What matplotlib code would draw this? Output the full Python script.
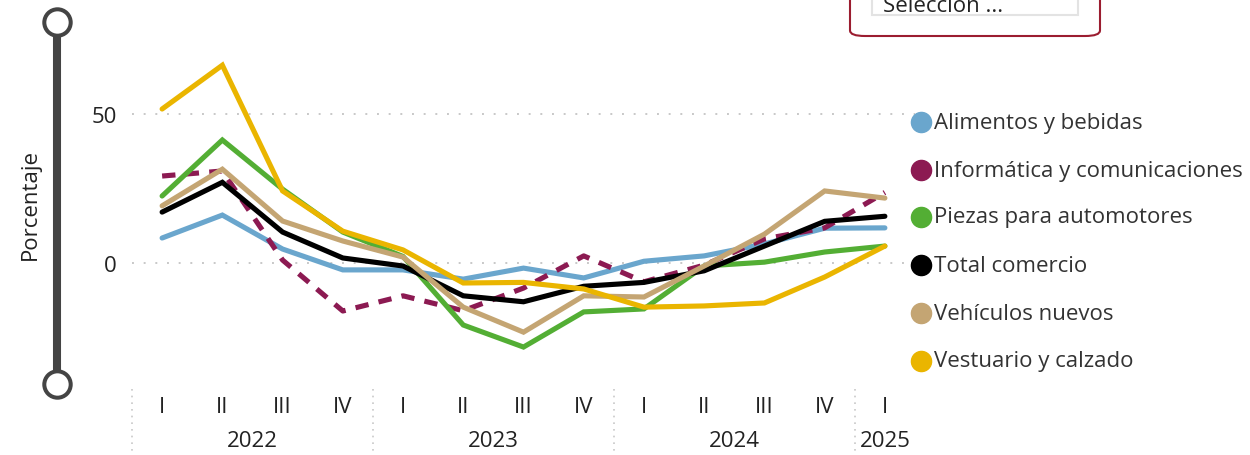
import matplotlib
matplotlib.use("Agg")
import matplotlib.pyplot as plt
from matplotlib.lines import Line2D
from matplotlib.patches import FancyBboxPatch
from matplotlib.transforms import blended_transform_factory

plt.rcParams["font.family"] = ["Open Sans", "DejaVu Sans"]

# ── data ───────────────────────────────────────────────────────────────────
quarters = ["I", "II", "III", "IV", "I", "II", "III", "IV",
            "I", "II", "III", "IV", "I"]
years = ["2022", "2023", "2024", "2025"]
year_quarters = [4, 4, 4, 1]

alimentos = [8.4, 16.1, 4.7, -2.3, -2.3, -5.4, -1.7, -5.0, 0.6, 2.4, 6.4, 11.7, 11.8]
informatica = [29.2, 30.9, 1.0, -16.1, -11.0, -16.0, -8.4, 2.4, -6.3, -0.7, 8.1, 11.8, 23.7]
piezas = [22.5, 41.3, 24.8, 10.4, 2.2, -20.8, -28.2, -16.4, -15.4, -1.0, 0.3, 3.7, 5.7]
total = [17.1, 27.1, 10.4, 1.7, -1.0, -11.0, -13.0, -7.8, -6.5, -2.6, 5.7, 14.0, 15.7]
vehiculos = [19.2, 31.5, 14.1, 7.4, 2.0, -14.8, -23.2, -11.0, -11.4, -1.0, 9.7, 24.2, 21.8]
vestuario = [51.7, 66.4, 24.2, 10.7, 4.4, -6.7, -6.5, -8.7, -14.8, -14.4, -13.4, -4.7, 5.7]

series = [
    ("Alimentos y bebidas", alimentos, "#6AA6CD", "-"),
    ("Informática y comunicaciones", informatica, "#8C1A52", (0, (2.6, 2.0))),
    ("Piezas para automotores", piezas, "#53AE34", "-"),
    ("Total comercio", total, "#000000", "-"),
    ("Vehículos nuevos", vehiculos, "#C4A573", "-"),
    ("Vestuario y calzado", vestuario, "#EAB500", "-"),
]

W, H = 1250, 456
FS = 16
TXT = "#222222"

# ── figure ─────────────────────────────────────────────────────────────────
fig = plt.figure(figsize=(W / 100, H / 100), dpi=100)
ax = fig.add_axes([132 / W, 1 - 385 / H, 783 / W, 345 / H])

x = list(range(len(quarters)))
for name, vals, color, ls in series:
    ax.plot(x, vals, color=color, lw=3.7, ls=ls, label=name,
            solid_capstyle="round", solid_joinstyle="miter")

ax.set_xlim(-0.5, 12.5)
ax.set_ylim(-40.6, 75.2)
ax.set_yticks([0, 50])
ax.set_yticklabels(["0", "50"])
for yv in (0, 50):
    ax.axhline(yv, color="#C8C8C8", lw=1.4, ls=(0, (1, 5)), zorder=0)

ax.set_xticks(x)
ax.set_xticklabels(quarters)
ax.tick_params(axis="both", length=0, labelsize=FS, colors=TXT)
ax.tick_params(axis="x", pad=9)
ax.tick_params(axis="y", pad=11)
for s in ax.spines.values():
    s.set_visible(False)

fig.text(30 / W, 1 - 205 / H, "Porcentaje", rotation=90, ha="center",
         va="center", fontsize=FS, color=TXT)

# year groups and separators
trans = blended_transform_factory(ax.transData, ax.transAxes)
start = 0
for yr, n in zip(years, year_quarters):
    ax.plot([start - 0.5, start - 0.5], [-0.015, -0.21], transform=trans,
            clip_on=False, color="#C8C8C8", lw=1.2, ls=(0, (1, 3)))
    cx = start + (n - 1) / 2
    ax.text(cx, -0.165, yr, transform=trans, ha="center", va="center",
            fontsize=FS, color=TXT)
    start += n

# legend
leg_y = [123, 171, 218, 266, 314, 362]
for (name, _, color, _), py in zip(series, leg_y):
    fig.add_artist(Line2D([921 / W], [1 - py / H], transform=fig.transFigure,
                          ls="", marker="o", markersize=14.5, color=color))
    fig.text(934 / W, 1 - py / H, name, fontsize=FS, color="#333333",
             va="center", ha="left")

# slider widget on the left
sx = 56.7 / W
sy = [1 - 23 / H, 1 - 385 / H]
fig.add_artist(Line2D([sx, sx], sy, transform=fig.transFigure,
                      color="#444444", lw=5.8))
fig.add_artist(Line2D([sx, sx], sy, transform=fig.transFigure, ls="",
                      marker="o", markersize=19, markerfacecolor="white",
                      markeredgecolor="#444444", markeredgewidth=2.9))

# cut-off selection box at top right
fig.add_artist(FancyBboxPatch((850 / W, 1 - 37 / H), 250 / W, 0.2,
                              boxstyle="round,pad=0,rounding_size=0.012",
                              transform=fig.transFigure, fc="white",
                              ec="#9B1D30", lw=1.5))
fig.add_artist(FancyBboxPatch((872 / W, 1 - 16 / H), 206 / W, 0.1,
                              boxstyle="square,pad=0", transform=fig.transFigure,
                              fc="white", ec="#E3E3E3", lw=1.5))
fig.text(883 / W, 1 - 12 / H, "Selección ...", fontsize=FS,
         color=TXT, va="baseline")

fig.savefig("out.png", dpi=100)
